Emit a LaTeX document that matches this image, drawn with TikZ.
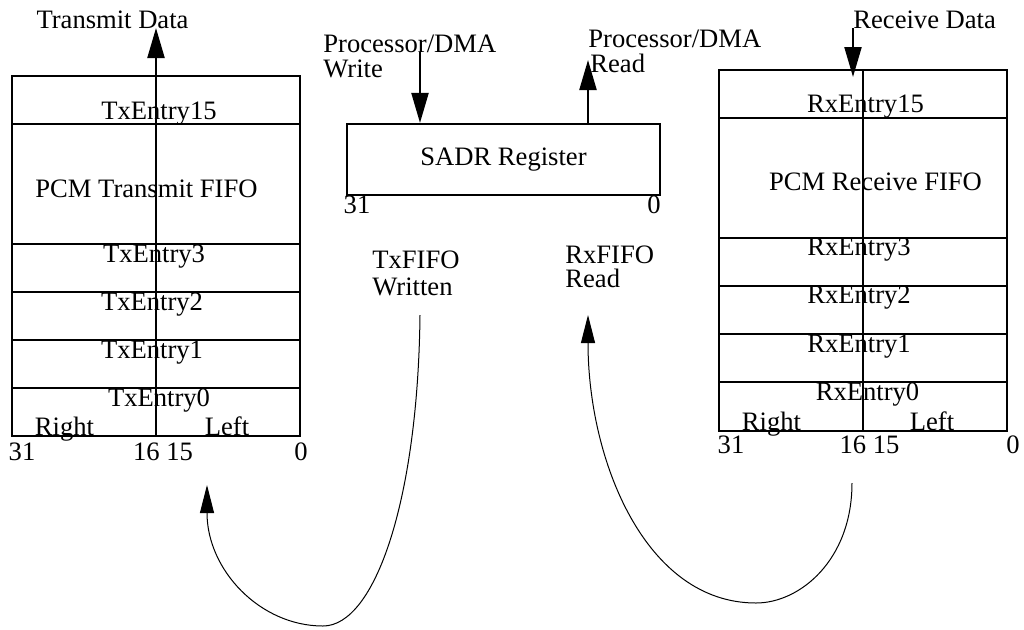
\documentclass[tikz,border=0pt]{standalone}
\usepackage{fontspec}
\setmainfont{Liberation Serif}
\usetikzlibrary{arrows.meta,positioning,calc}

\begin{document}
\begin{tikzpicture}[x=0.5pt, y=-0.5pt,
    every node/.style={font=\fontsize{13.3}{15}\selectfont, inner sep=0pt},
    lbl/.style={anchor=base},
    lbll/.style={anchor=base west},
    box/.style={line width=1.1pt},
    arr/.style={line width=1.1pt, -{Triangle[length=15pt, width=8.5pt]}},
    carr/.style={line width=0.5pt, -{Triangle[length=14pt, width=7pt]}}]
    \useasboundingbox (0,0) rectangle (1024,629);

    % Transmit FIFO
    \draw[box] (12,76) rectangle (300,436);
    \foreach \y in {124,244,292,340,388} \draw[box] (12,\y) -- (300,\y);
    \coordinate (txmid) at (156,436);
    \node[lbl] (txdata) at (112.5,28) {Transmit Data};
    \draw[arr] (txmid) -- (txmid |- txdata.base);
    \node[lbl] (tx15) at (159,119) {TxEntry15};
    \node[lbl] (txfifo) at (146.5,197) {PCM Transmit FIFO};
    \node[lbl] (tx3) at (154,262) {TxEntry3};
    \node[lbl] (tx2) at (152,310) {TxEntry2};
    \node[lbl] (tx1) at (152,358) {TxEntry1};
    \node[lbl] (tx0) at (159,406) {TxEntry0};
    \node[lbl] (txright) at (64.5,435) {Right};
    \node[lbl] (txleft) at (227,435) {Left};
    \node[lbl] (txb31) at (22,460) {31};
    \node[lbl] (txb16) at (163,460) {16 15};
    \node[lbl] (txb0) at (301,460) {0};

    % SADR register
    \node[draw, box, minimum width=156.5pt, minimum height=35.5pt] (sadr) at (503.5,159.5) {SADR Register};
    \node[lbl] (sadr31) at (357,213) {31};
    \node[lbl] (sadr0) at (654,213) {0};
    \node[lbll] (wr1) at (323,52) {Processor/DMA};
    \node[lbll] (wr2) at (323,77) {Write};
    \node[lbll] (rd1) at (588,47) {Processor/DMA};
    \node[lbll] (rd2) at (590,72) {Read};
    \coordinate (wrin) at (420,52);
    \coordinate (rdout) at (588,60);
    \draw[arr] (wrin) -- (wrin |- sadr.north);
    \draw[arr] (rdout |- sadr.north) -- (rdout);
    \node[lbll] (txw1) at (372,268) {TxFIFO};
    \node[lbll] (txw2) at (372,295) {Written};
    \node[lbll] (rxr1) at (565,263) {RxFIFO};
    \node[lbll] (rxr2) at (565,287) {Read};

    % Receive FIFO
    \draw[box] (719,70) rectangle (1007,431);
    \foreach \y in {118,238,286,334,382} \draw[box] (719,\y) -- (1007,\y);
    \draw[box] (863,70) -- (863,431);
    \node[lbll] (rxdata) at (853,28) {Receive Data};
    \draw[arr] (rxdata.base west) -- +(0,49);
    \node[lbl] (rx15) at (865.5,112) {RxEntry15};
    \node[lbl] (rxfifo) at (875.5,190) {PCM Receive FIFO};
    \node[lbl] (rx3) at (859,255) {RxEntry3};
    \node[lbl] (rx2) at (859,303) {RxEntry2};
    \node[lbl] (rx1) at (859,352) {RxEntry1};
    \node[lbl] (rx0) at (867.5,400) {RxEntry0};
    \node[lbl] (rxright) at (771.5,430) {Right};
    \node[lbl] (rxleft) at (932,430) {Left};
    \node[lbl] (rxb31) at (731,453) {31};
    \node[lbl] (rxb16) at (869.5,453) {16 15};
    \node[lbl] (rxb0) at (1013,453) {0};

    % Curved arrows
    \coordinate (txwa) at (420,315);
    \coordinate (txfb) at (207,485);
    \coordinate (rxfa) at (852,483);
    \coordinate (rxrb) at (588,315);
    \draw[carr] (txwa) .. controls (418,500) and (375,626) .. (323,626)
        .. controls (260,626) and (207,570) .. (txfb);
    \draw[carr] (rxfa) .. controls (852,560) and (800,603) .. (756,603)
        .. controls (645,603) and (588,460) .. (rxrb);
\end{tikzpicture}
\end{document}
